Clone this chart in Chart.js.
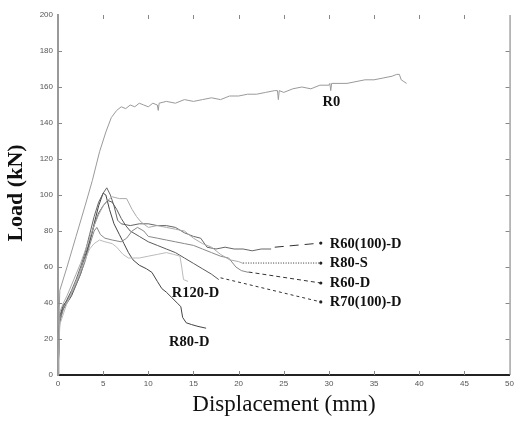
<!DOCTYPE html>
<html>
<head>
<meta charset="utf-8">
<script src="https://cdn.jsdelivr.net/npm/chart.js@4.4.1/dist/chart.umd.min.js"></script>
<style>
  html, body { margin: 0; padding: 0; background: #fff; }
  #wrap { width: 518px; height: 426px; }
</style>
</head>
<body>
<div id="wrap"><canvas id="loadChart" width="518" height="426"></canvas></div>
<script>

  // ---- data: displacement (mm) / load (kN) ----
  const r0Disp  = [0, 0.1, 0.2, 1, 2, 3, 3.8, 4.6, 5.3, 5.9, 6.5, 7, 7.5, 8, 8.5, 9, 9.5, 10, 10.5, 11, 11.1, 11.2, 12, 13, 14, 15, 16, 17, 18, 19, 20, 21, 22, 23, 24, 24.3, 24.4, 24.5, 25, 26, 27, 28, 29, 30, 30.1, 30.2, 30.3, 31, 32, 33, 34, 35, 36, 37, 37.5, 37.8, 38, 38.3, 38.6];
  const r0Load  = [0, 30, 47, 60, 77, 94, 108, 124, 135, 143, 147, 149, 148, 150, 149, 151, 150, 149, 151, 150, 147, 151, 152, 151, 153, 152, 153, 154, 153, 155, 155, 156, 156, 157, 158, 158, 153, 158, 157, 159, 160, 159, 161, 161, 162, 158, 162, 162, 162, 163, 164, 164, 165, 166, 167, 167, 164, 163, 162];

  const r80dDisp = [0, 0.15, 0.5, 1, 1.5, 2, 2.5, 3, 3.5, 4, 4.5, 5, 5.3, 5.7, 6.2, 6.8, 7.3, 7.8, 8.3, 9, 9.8, 10.4, 11, 11.5, 12, 12.6, 13.2, 13.6, 13.8, 14.2, 14.8, 15.5, 16.4];
  const r80dLoad = [0, 28, 36, 40, 44, 50, 56, 64, 74, 84, 94, 101, 100, 92, 84, 78, 73, 68, 64, 61, 59, 57, 52, 48, 46, 43, 40, 38, 32, 29, 28, 27, 26];

  const r60_100dDisp = [0, 0.2, 0.6, 1, 1.5, 2, 2.5, 3, 3.5, 4, 4.5, 5, 5.4, 5.8, 6.2, 6.6, 7, 8, 9, 10, 11, 12, 13, 14, 15, 15.8, 16.5, 17.5, 18.5, 19.5, 20.5, 21.5, 22.5, 23.6];
  const r60_100dLoad = [0, 32, 38, 42, 47, 53, 60, 68, 78, 88, 96, 101, 104, 100, 94, 86, 84, 83, 84, 84, 83, 83, 82, 79, 77, 76, 71, 70, 71, 70, 70, 69, 70, 70];

  const r80sDisp = [0, 0.2, 0.6, 1, 1.5, 2, 2.5, 3, 3.5, 4, 4.5, 5, 5.5, 6, 6.8, 7.6, 8.2, 8.7, 9.2, 10, 11, 12, 13, 14, 15, 16, 17, 18, 19, 20, 20.5];
  const r80sLoad = [0, 35, 40, 44, 50, 56, 62, 69, 76, 83, 89, 94, 97, 99, 98, 98, 92, 88, 85, 82, 83, 82, 81, 80, 76, 73, 71, 67, 64, 63, 62];

  const r60dDisp = [0, 0.2, 0.7, 1.2, 1.8, 2.4, 3, 3.5, 4, 4.3, 4.7, 5.2, 6, 7, 7.6, 8.2, 8.8, 9.5, 10, 11, 12, 13, 14, 15, 16, 17, 18, 18.9, 19.7, 20.3, 21.1];
  const r60dLoad = [0, 30, 38, 42, 48, 55, 63, 72, 80, 82, 78, 76, 75, 74, 76, 80, 82, 80, 77, 76, 75, 74, 73, 72, 70, 68, 66, 65, 60, 58, 57];

  const r70_100dDisp = [0, 0.2, 0.6, 1, 1.5, 2, 2.5, 3, 3.5, 4, 4.5, 5, 5.5, 6, 6.5, 7, 7.5, 8, 9, 10, 11, 12, 13, 14, 15, 16, 17, 17.8];
  const r70_100dLoad = [0, 33, 39, 41, 46, 52, 58, 66, 74, 83, 90, 94, 97, 96, 92, 87, 83, 80, 77, 74, 72, 70, 68, 65, 62, 59, 56, 53];

  const r120dDisp = [0, 0.2, 0.6, 1, 1.5, 2, 2.5, 3, 3.5, 4, 4.6, 5.2, 6, 6.5, 7.2, 7.8, 9, 10, 11, 12, 12.8, 13.5, 13.7, 13.9, 14.4];
  const r120dLoad = [0, 28, 34, 40, 46, 52, 58, 64, 70, 73, 75, 74, 73, 71, 67, 65, 65, 66, 67, 68, 67, 66, 60, 53, 52];

  // label text with its anchor (displacement, load)
  const labelText = ["R0", "R60(100)-D", "R80-S", "R60-D", "R70(100)-D", "R120-D", "R80-D"];
  const labelDisp = [29.3, 30.1, 30.1, 30.1, 30.1, 12.6, 12.3];
  const labelLoad = [151.5, 72.8, 62.2, 51.1, 40.6, 45.5, 18.3];

  // leader lines: [from disp, from load, to disp, to load]
  const leaderFrom = [[24.0, 71.0], [20.5, 62.2], [21.1, 57.2], [18.0, 54.0]];
  const leaderTo   = [[29.1, 73.3], [29.1, 62.2], [29.1, 51.1], [29.1, 40.6]];

  const xTicks = [0, 50, 5];
  const yTicks = [0, 200, 20];

  function pairs(xs, ys)
  {
      let out = [];
      for (let i = 0; i < xs.length; i++) out.push({x: xs[i], y: ys[i]});
      return out;
  }

  function curve(data, color)
  {
      return { data: data, borderColor: color, borderWidth: 1, pointRadius: 0, tension: 0, fill: false };
  }

  function leader(i, dash)
  {
      return {
          data: [{x: leaderFrom[i][0], y: leaderFrom[i][1]}, {x: leaderTo[i][0], y: leaderTo[i][1]}],
          borderColor: '#333', borderWidth: 1, borderDash: dash,
          pointRadius: [0, 1.6], pointBackgroundColor: '#222', pointBorderWidth: 0, fill: false
      };
  }

  // ticks pointing inward, right border, axis titles and curve labels
  const decorations = {
      id: 'decorations',
      afterDatasetsDraw(chart)
      {
          const ctx = chart.ctx;
          const a = chart.chartArea;
          const xs = chart.scales.x, ys = chart.scales.y;
          ctx.save();
          ctx.strokeStyle = '#777';
          ctx.lineWidth = 1;
          ctx.beginPath();
          ctx.moveTo(a.right + 0.5, a.top); ctx.lineTo(a.right + 0.5, a.bottom);
          ctx.stroke();
          ctx.strokeStyle = '#888';
          for (let v = xTicks[0] + xTicks[2]; v < xTicks[1]; v += xTicks[2]) {
              const px = Math.round(xs.getPixelForValue(v)) + 0.5;
              ctx.beginPath();
              ctx.moveTo(px, a.bottom); ctx.lineTo(px, a.bottom - 4);
              ctx.moveTo(px, a.top); ctx.lineTo(px, a.top + 4);
              ctx.stroke();
          }
          for (let v = yTicks[0] + yTicks[2]; v < yTicks[1]; v += yTicks[2]) {
              const py = Math.round(ys.getPixelForValue(v)) + 0.5;
              ctx.beginPath();
              ctx.moveTo(a.left, py); ctx.lineTo(a.left + 4, py);
              ctx.moveTo(a.right, py); ctx.lineTo(a.right - 4, py);
              ctx.stroke();
          }

          ctx.fillStyle = '#111';
          ctx.font = 'bold 14.5px "Liberation Serif"';
          ctx.textBaseline = 'middle';
          for (let i = 0; i < labelText.length; i++) {
              ctx.textAlign = 'left';
              ctx.fillText(labelText[i], xs.getPixelForValue(labelDisp[i]), ys.getPixelForValue(labelLoad[i]));
          }

          ctx.textAlign = 'center';
          ctx.font = '23px "Liberation Serif"';
          ctx.fillText('Displacement (mm)', 284, 405);
          ctx.translate(16, 193);
          ctx.rotate(-Math.PI / 2);
          ctx.font = 'bold 22px "Liberation Serif"';
          ctx.fillText('Load (kN)', 0, 0);
          ctx.restore();
      }
  };

  const loadChart = new Chart(document.getElementById('loadChart'), {
      type: 'line',
      data: {
          datasets: [
              curve(pairs(r0Disp, r0Load), '#9a9a9a'),
              curve(pairs(r120dDisp, r120dLoad), '#bbbbbb'),
              curve(pairs(r80sDisp, r80sLoad), '#aaaaaa'),
              curve(pairs(r60dDisp, r60dLoad), '#888888'),
              curve(pairs(r70_100dDisp, r70_100dLoad), '#5a5a5a'),
              curve(pairs(r60_100dDisp, r60_100dLoad), '#666666'),
              curve(pairs(r80dDisp, r80dLoad), '#444444'),
              leader(0, [9, 6]),
              leader(1, [1, 1.5]),
              leader(2, [4, 3]),
              leader(3, [3, 3])
          ]
      },
      options: {
          responsive: false,
          animation: false,
          layout: { padding: { top: 15, right: 2, left: 0, bottom: 0 } },
          plugins: { legend: { display: false }, tooltip: { enabled: false } },
          scales: {
              x: {
                  type: 'linear', min: xTicks[0], max: xTicks[1],
                  ticks: { stepSize: xTicks[2], color: '#555', font: { family: 'Liberation Sans', size: 8 }, padding: 4, maxRotation: 0 },
                  grid: { display: true, drawOnChartArea: false, drawTicks: false },
                  border: { color: '#222', width: 2 },
                  afterFit: function(s) { s.height = 51; }
              },
              y: {
                  type: 'linear', min: yTicks[0], max: yTicks[1],
                  ticks: { stepSize: yTicks[2], color: '#555', font: { family: 'Liberation Sans', size: 8 }, padding: 5 },
                  grid: { display: true, drawOnChartArea: false, drawTicks: false },
                  border: { color: '#999', width: 2 },
                  afterFit: function(s) { s.width = 58; }
              }
          }
      },
      plugins: [decorations]
  });

</script>
</body>
</html>
